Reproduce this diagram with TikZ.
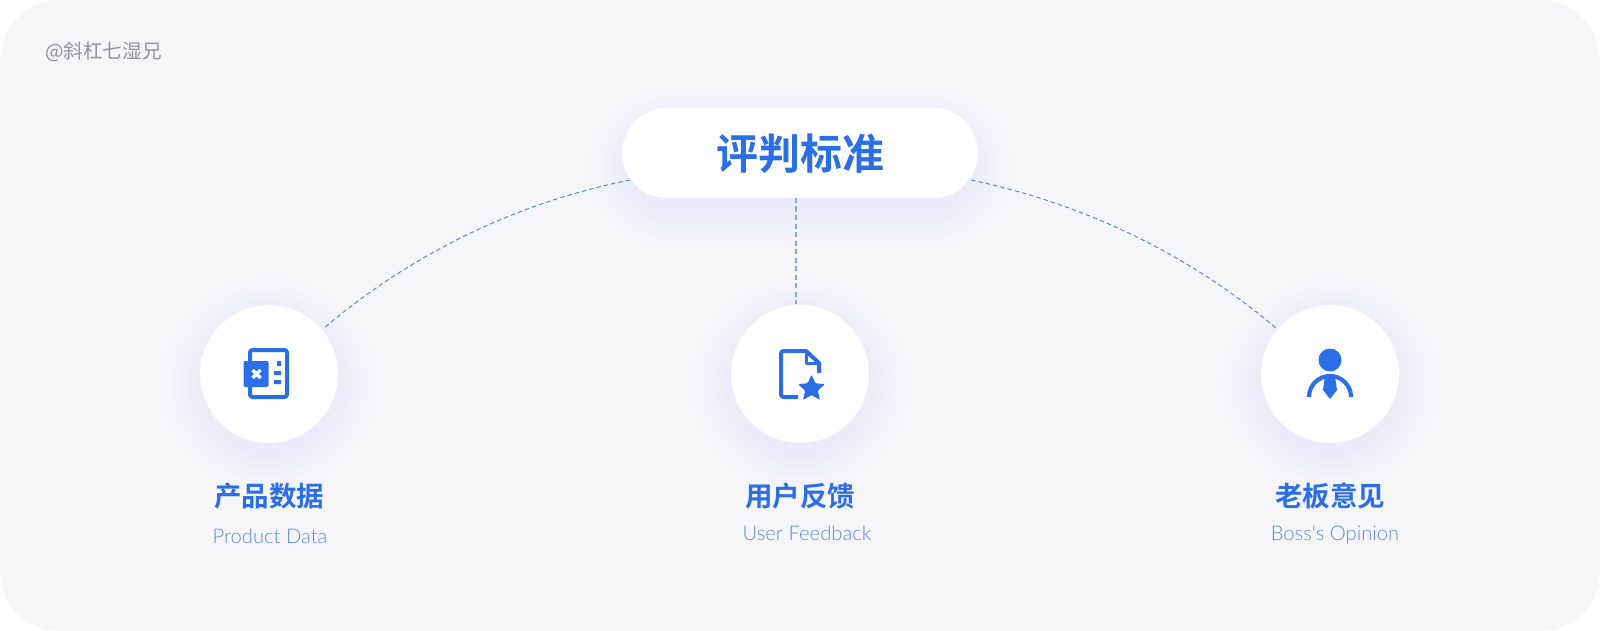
\documentclass[tikz,border=0pt]{standalone}
\usepackage{fontspec}
\newfontfamily\cjk{Noto Sans CJK SC}[BoldFont={Noto Sans CJK SC Bold}]
\newfontfamily\latin{Lato Light}
\definecolor{bg}{HTML}{F6F6F9}
\definecolor{blue}{HTML}{2B6FE8}
\definecolor{sub}{HTML}{5F8AE2}
\definecolor{wm}{HTML}{92929C}
\definecolor{lnk}{HTML}{4F7FDC}
\definecolor{lnkpale}{HTML}{8AA6DE}
\definecolor{shad}{HTML}{C4CEFA}
\tikzset{
 x=1pt,y=-1pt,
 disc/.style={circle,fill=white,minimum size=138pt,inner sep=0pt},
 pill/.style={rounded corners=45pt,fill=white,minimum width=356pt,minimum height=90pt,inner sep=0pt},
 title/.style={text=blue,font={\cjk\bfseries\fontsize{42}{46}\selectfont},inner sep=0pt},
 zh/.style={text=blue,font={\cjk\bfseries\fontsize{27.5}{30}\selectfont},inner sep=0pt},
 en/.style={text=sub,font={\latin\fontsize{20.2}{23}\selectfont},inner sep=0pt},
 lnkline/.style={draw=lnk,line width=0.9pt,dash pattern=on 4.5pt off 3pt},
 icon/.style={draw=blue,line width=4pt,line join=round},
 iconfill/.style={fill=blue,draw=none},
}
\begin{document}
\begin{tikzpicture}
\useasboundingbox (0,0) rectangle (1600,631);
\fill[white] (0,0) rectangle (1600,631);
\fill[bg,rounded corners=60pt] (0,0) rectangle (1600,631);
% soft shadows
\foreach \g in {2,6,...,42}{
 \fill[shad,opacity=0.013,rounded corners=35pt+\g pt] (632-\g,130-\g) rectangle (968+\g,206+\g);
 \fill[shad,opacity=0.007] (269,384) circle (65+\g);
 \fill[shad,opacity=0.007] (800,384) circle (65+\g);
 \fill[shad,opacity=0.007] (1330,384) circle (65+\g);
}
\node[disc] (d1) at (269,374) {};
\node[disc] (d2) at (800,374) {};
\node[disc] (d3) at (1330,374) {};
\node[pill] (p) at (800,153) {};
\coordinate (a1) at (630,180);
\coordinate (a3) at (971,180);
\coordinate (a2) at (796,198);
\coordinate (b1) at (324,328);
\coordinate (b2) at (796,304);
\coordinate (b3) at (1276,328);
\draw[lnkline] (a1) .. controls (520,202) and (415,251) .. (b1);
\draw[lnkline] (a3) .. controls (1085,204) and (1190,255) .. (b3);
\draw[lnkline,draw=lnkpale,line width=1.2pt,dash pattern=on 5pt off 3.5pt] (a2) -- (b2);
\node[title] (t) at (800,154) {评判标准};
\node[zh] (z1) at (269,496) {产品数据};
\node[zh] (z2) at (800,496) {用户反馈};
\node[zh] (z3) at (1330,496) {老板意见};
\node[en] (e1) at (270,536) {Product Data};
\node[en] (e2) at (807,533) {User Feedback};
\node[en] (e3) at (1335,535) {Boss's Opinion};
\node[anchor=west,text=wm,inner sep=0pt,font={\cjk\fontsize{19.6}{22}\selectfont}] (w) at (45,52) {@斜杠七湿兄};
% icon 1: product data
\draw[icon,rounded corners=2.5pt] (250,361) -- (250,350) -- (287,350) -- (287,397) -- (250,397) -- (250,387);
\fill[iconfill,rounded corners=2pt] (243.5,361) rectangle (268.5,387);
\draw[white,line width=3.4pt] (252.5,370) -- (260.5,378) (260.5,370) -- (252.5,378);
\fill[iconfill] (277,361) rectangle (281,366) (274,371) rectangle (281,375) (274,380) rectangle (281,384);
% icon 2: document with star
\draw[icon,rounded corners=2.5pt] (798,397) -- (781,397) -- (781,351) -- (807,351);
\draw[icon] (806,351) -- (819,363) -- (819,373);
\draw[icon,line width=3pt] (806,351) -- (806,363) -- (819,363);
\fill[iconfill,rounded corners=1.2pt] (811.5,374.5)
 -- (815.3,383.2) -- (825,384.2) -- (817.8,390.6) -- (820,400) -- (811.5,395)
 -- (803,400) -- (805.2,390.6) -- (798,384.2) -- (807.7,383.2) -- cycle;
% icon 3: person with tie
\fill[iconfill] (1330,360) circle (11.5);
\draw[blue,line width=4.2pt] (1309,397) arc[start angle=180,end angle=360,radius=21];
\fill[iconfill] (1325,376) -- (1335,376) -- (1337,390) -- (1330,399) -- (1323,390) -- cycle;
\end{tikzpicture}
\end{document}
